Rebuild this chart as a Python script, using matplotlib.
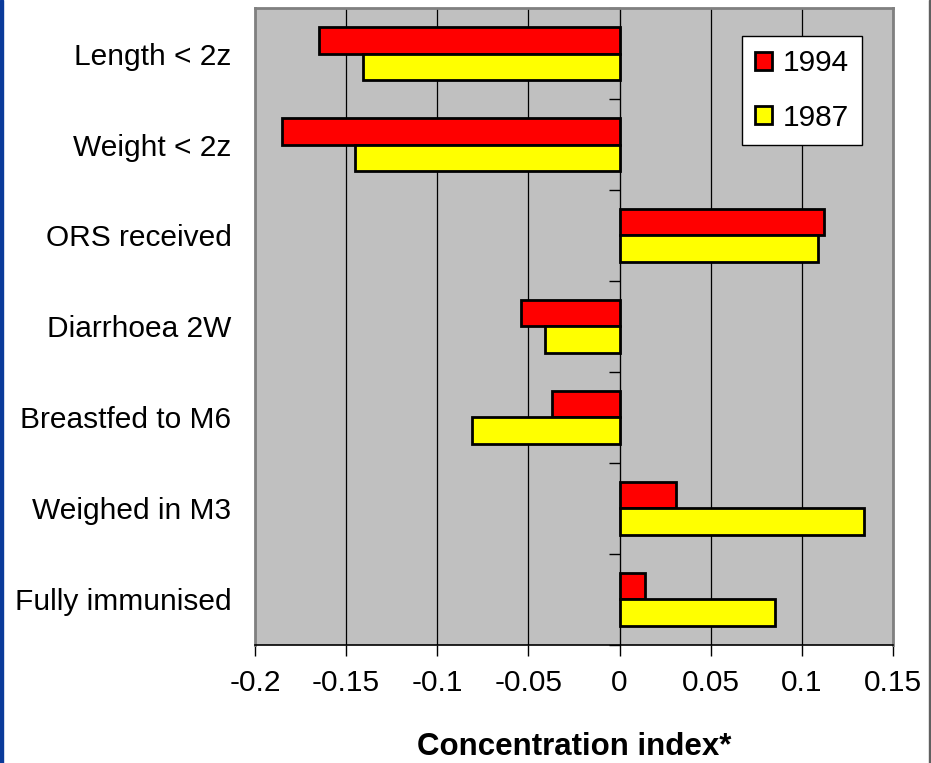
import matplotlib.pyplot as plt
import numpy as np
from matplotlib.patches import Rectangle

# Concentration index by indicator
categories = ["Length < 2z", "Weight < 2z", "ORS received", "Diarrhoea 2W",
              "Breastfed to M6", "Weighed in M3", "Fully immunised"]
ci_1994 = [-0.165, -0.185, 0.112, -0.054, -0.037, 0.031, 0.014]
ci_1987 = [-0.141, -0.145, 0.109, -0.041, -0.081, 0.134, 0.085]
xticks = [-0.2, -0.15, -0.1, -0.05, 0, 0.05, 0.1, 0.15]
xticklabels = ["-0.2", "-0.15", "-0.1", "-0.05", "0", "0.05", "0.1", "0.15"]

plt.rcParams['font.family'] = ['Liberation Sans', 'DejaVu Sans']

fig = plt.figure(figsize=(9.31, 7.63), dpi=100)
ax = fig.add_axes([0.2739, 0.1547, 0.6853, 0.8348])
ax.set_facecolor('#C0C0C0')

y = np.arange(len(categories))
h = 0.29
ax.barh(y - h / 2, ci_1994, height=h, color='#FF0000', edgecolor='black',
        linewidth=2, label='1994', zorder=3)
ax.barh(y + h / 2, ci_1987, height=h, color='#FFFF00', edgecolor='black',
        linewidth=2, label='1987', zorder=3)

ax.set_xlim(-0.2, 0.15)
ax.set_ylim(len(categories) - 0.5, -0.5)

ax.set_xticks(xticks)
ax.set_xticklabels(xticklabels, fontsize=21.5)
ax.set_yticks(y)
ax.set_yticklabels(categories, fontsize=21.5)
ax.tick_params(axis='y', length=0, pad=17)
ax.tick_params(axis='x', length=8, width=1, pad=9, color='black')
ax.grid(axis='x', color='black', linewidth=0.9, zorder=1)

for s in ['top', 'right', 'left']:
    ax.spines[s].set_color('#808080')
    ax.spines[s].set_linewidth(2)
ax.spines['bottom'].set_color('black')
ax.spines['bottom'].set_linewidth(1.2)

# category axis crossing at zero, with its own tick marks
zero_pos = (0 - xticks[0]) / (xticks[-1] - xticks[0])
sec = ax.secondary_yaxis(zero_pos)
sec.set_yticks(np.arange(len(categories) + 1) - 0.5)
sec.set_yticklabels([])
sec.tick_params(length=8, width=1, color='black', direction='in')
sec.spines['left'].set_color('black')
sec.spines['left'].set_linewidth(1.2)

ax.set_xlabel("Concentration index*", fontsize=22.5, fontweight='bold',
              labelpad=25.5)

leg = ax.legend(loc='upper right', bbox_to_anchor=(0.9514, 0.956),
                fontsize=21.5, frameon=True, fancybox=False, framealpha=1,
                edgecolor='black', handlelength=0.55, handleheight=0.55,
                handletextpad=0.35, labelspacing=0.88, borderpad=0.45,
                borderaxespad=0)
leg.get_frame().set_linewidth(1)

# slide frame edges
fig.add_artist(Rectangle((0, 0), 3 / 931, 1, transform=fig.transFigure,
                         color='#0A3A9A', zorder=10))
fig.add_artist(Rectangle((929 / 931, 0), 1.5 / 931, 1, transform=fig.transFigure,
                         color='#606060', zorder=10))

plt.savefig('out.png', dpi=100)
